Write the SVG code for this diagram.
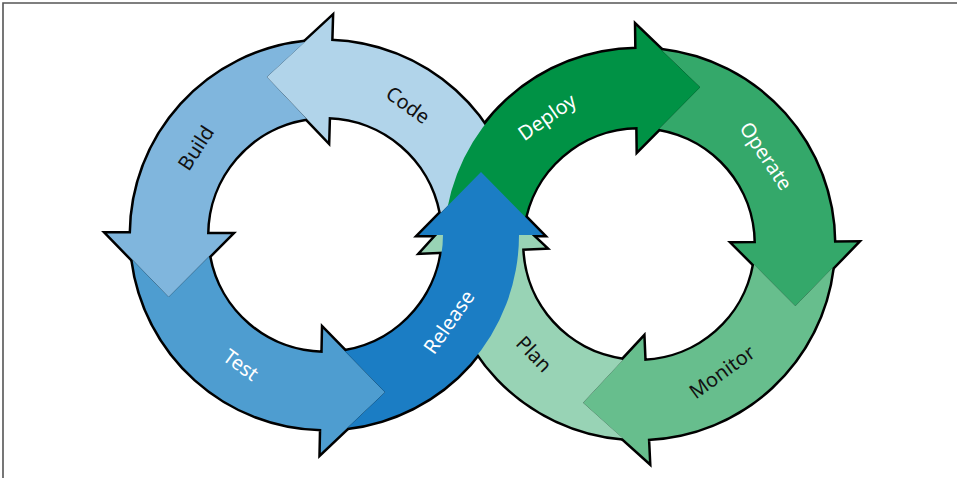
<svg xmlns="http://www.w3.org/2000/svg" xmlns:xlink="http://www.w3.org/1999/xlink" width="957" height="478" viewBox="0 0 957 478">
  <style>
    .ol use { fill: #000; stroke: #000; stroke-width: 5; stroke-linejoin: miter; stroke-miterlimit: 6; }
    .lbl { font-family: "Noto Sans", "Open Sans", "Liberation Sans", sans-serif; font-size: 20px; text-anchor: middle; }
    .dark { fill: #111; }
    .light { fill: #fff; }
  </style>
  <defs>
    <path id="p-code" d="M517.2,208.8 A194,194 0 0 0 331.1,41.1 L331.8,17.1 L266.9,77.1 L328.0,141.0 L328.7,117.1 A118,118 0 0 1 440.9,212.8 L481,172 Z"/>
    <path id="p-build" d="M304.9,42.1 A194,194 0 0 0 131.0,233.6 L107.0,233.5 L168.6,296.9 L231.0,234.3 L207.0,234.2 A118,118 0 0 1 306.4,118.5 L266.9,77.1 Z"/>
    <path id="p-test" d="M132.6,259.9 A194,194 0 0 0 321.3,429.0 L320.8,453.0 L385.0,392.2 L323.2,329.0 L322.7,353.0 A118,118 0 0 1 209.0,256.4 L168.6,296.9 Z"/>
    <path id="p-release" d="M347.5,427.7 A194,194 0 0 0 519,235 L543,235 L481,172 L419,235 L443,235 A118,118 0 0 1 345.0,351.3 L385.0,392.2 Z"/>
    <path id="p-deploy" d="M444.8,226.4 A195,195 0 0 1 636.6,49.0 L636.3,26.0 L700.1,87.2 L637.9,150.0 L637.6,127.0 A117,117 0 0 0 523.2,227.1 L480.7,187.0 Z"/>
    <path id="p-operate" d="M661.6,50.3 A195,195 0 0 1 834.0,242.7 L857.0,242.6 L795.4,306.0 L733.0,243.4 L756.0,243.2 A117,117 0 0 0 659.0,128.7 L700.1,87.2 Z"/>
    <path id="p-monitor" d="M832.5,267.8 A195,195 0 0 1 647.8,438.8 L648.9,461.8 L583.1,402.7 L643.3,337.9 L644.3,360.9 A117,117 0 0 0 754.2,264.6 L795.4,306.0 Z"/>
    <path id="p-plan" d="M622.8,438.3 A195,195 0 0 1 444.1,251.5 L421.2,252.4 L480.7,187.0 L545.1,247.6 L522.1,248.5 A117,117 0 0 0 622.9,359.9 L583.1,402.7 Z"/>
  </defs>

  <path id="frame" d="M3,478 V3 H957" fill="none" stroke="#555" stroke-width="1.6"/>

  <g id="connectors" class="ol">
    <use href="#p-code"/>
    <use href="#p-build"/>
    <use href="#p-test"/>
    <use href="#p-release"/>
    <use href="#p-deploy"/>
    <use href="#p-operate"/>
    <use href="#p-monitor"/>
    <use href="#p-plan"/>
  </g>

  <g id="node-code">
    <use href="#p-code" fill="#b1d4ea"/>
    <text class="lbl dark" transform="translate(408,105) rotate(36)" dy="0.35em">Code</text>
  </g>
  <g id="node-build">
    <use href="#p-build" fill="#80b6dd"/>
    <text class="lbl dark" transform="translate(196,148) rotate(-57)" dy="0.35em">Build</text>
  </g>
  <g id="node-test">
    <use href="#p-test" fill="#4e9dd0"/>
    <text class="lbl light" transform="translate(241,365) rotate(36)" dy="0.35em">Test</text>
  </g>
  <g id="node-operate">
    <use href="#p-operate" fill="#34a86a"/>
    <text class="lbl light" transform="translate(766,156) rotate(56)" dy="0.35em">Operate</text>
  </g>
  <g id="node-monitor">
    <use href="#p-monitor" fill="#67be8d"/>
    <text class="lbl dark" transform="translate(722,372) rotate(-36)" dy="0.35em">Monitor</text>
  </g>
  <g id="node-plan">
    <use href="#p-plan" fill="#98d3b5"/>
    <text class="lbl dark" transform="translate(534,354) rotate(46)" dy="0.35em">Plan</text>
  </g>
  <g id="node-deploy">
    <use href="#p-deploy" fill="#009245"/>
    <text class="lbl light" transform="translate(547,117) rotate(-35)" dy="0.35em">Deploy</text>
  </g>
  <g id="node-release">
    <use href="#p-release" fill="#1b7dc4"/>
    <text class="lbl light" transform="translate(449,322) rotate(-55)" dy="0.35em">Release</text>
  </g>
</svg>
